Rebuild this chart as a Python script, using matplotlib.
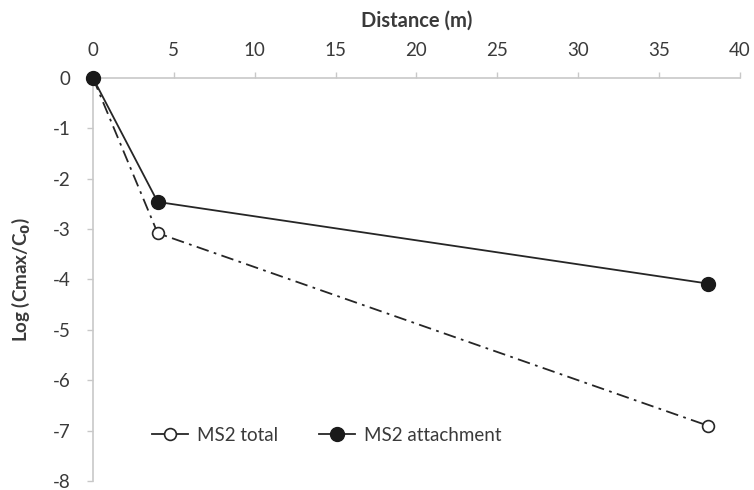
import numpy as np
import matplotlib.pyplot as plt

plt.rcParams['font.family'] = ['Lato', 'DejaVu Sans']
plt.rcParams['axes.unicode_minus'] = False

# distance from inlet (m) and log reduction for each MS2 series
distance = [0, 4, 38]
ms2_total = [0, -3.08, -6.9]
ms2_attach = [0, -2.46, -4.08]

x_ticks = [0, 5, 10, 15, 20, 25, 30, 35, 40]
y_ticks = [0, -1, -2, -3, -4, -5, -6, -7, -8]

txt = '#3a3a3a'
ax_col = '#c8c8c8'

fig = plt.figure(figsize=(7.54, 4.90), dpi=100)
ax = fig.add_axes([0.1233, 0.0184, 0.8581, 0.8224])

ax.plot(distance, ms2_total, color='#262626', lw=1.3, dashes=(7, 3, 1.5, 3),
        marker='o', ms=8.5, mfc='white', mec='#262626', mew=1.2,
        label='MS2 total', zorder=3, clip_on=False)
ax.plot(distance, ms2_attach, color='#262626', lw=1.3, ls='-',
        marker='o', ms=10, mfc='#1a1a1a', mec='#1a1a1a',
        label='MS2 attachment', zorder=4, clip_on=False)

ax.set_xlim(0, 40)
ax.set_ylim(-8, 0)
ax.set_xticks(x_ticks)
ax.set_yticks(y_ticks)
ax.xaxis.tick_top()
ax.xaxis.set_label_position('top')

for s in ['right', 'bottom']:
    ax.spines[s].set_visible(False)
for s in ['top', 'left']:
    ax.spines[s].set_color(ax_col)
    ax.spines[s].set_linewidth(1.2)

ax.tick_params(axis='both', colors=ax_col, labelcolor=txt, labelsize=13.5,
               length=4, width=1)
ax.tick_params(axis='x', pad=10)
ax.tick_params(axis='y', pad=12)

ax.set_xlabel('Distance (m)', fontsize=14.5, fontweight='bold', color=txt, labelpad=11)
ax.set_ylabel('Log (Cmax/C$_\\mathbf{0}$)', fontsize=13.5, fontweight='bold',
              color=txt, labelpad=15)

leg = ax.legend(loc='lower left', bbox_to_anchor=(0.065, 0.05), ncol=2,
                frameon=False, fontsize=13.5, handlelength=1.9,
                columnspacing=2.2, handletextpad=0.5)
for t in leg.get_texts():
    t.set_color(txt)
leg.legend_handles[0].set_linestyle('-')

fig.savefig('out.png', dpi=100)
